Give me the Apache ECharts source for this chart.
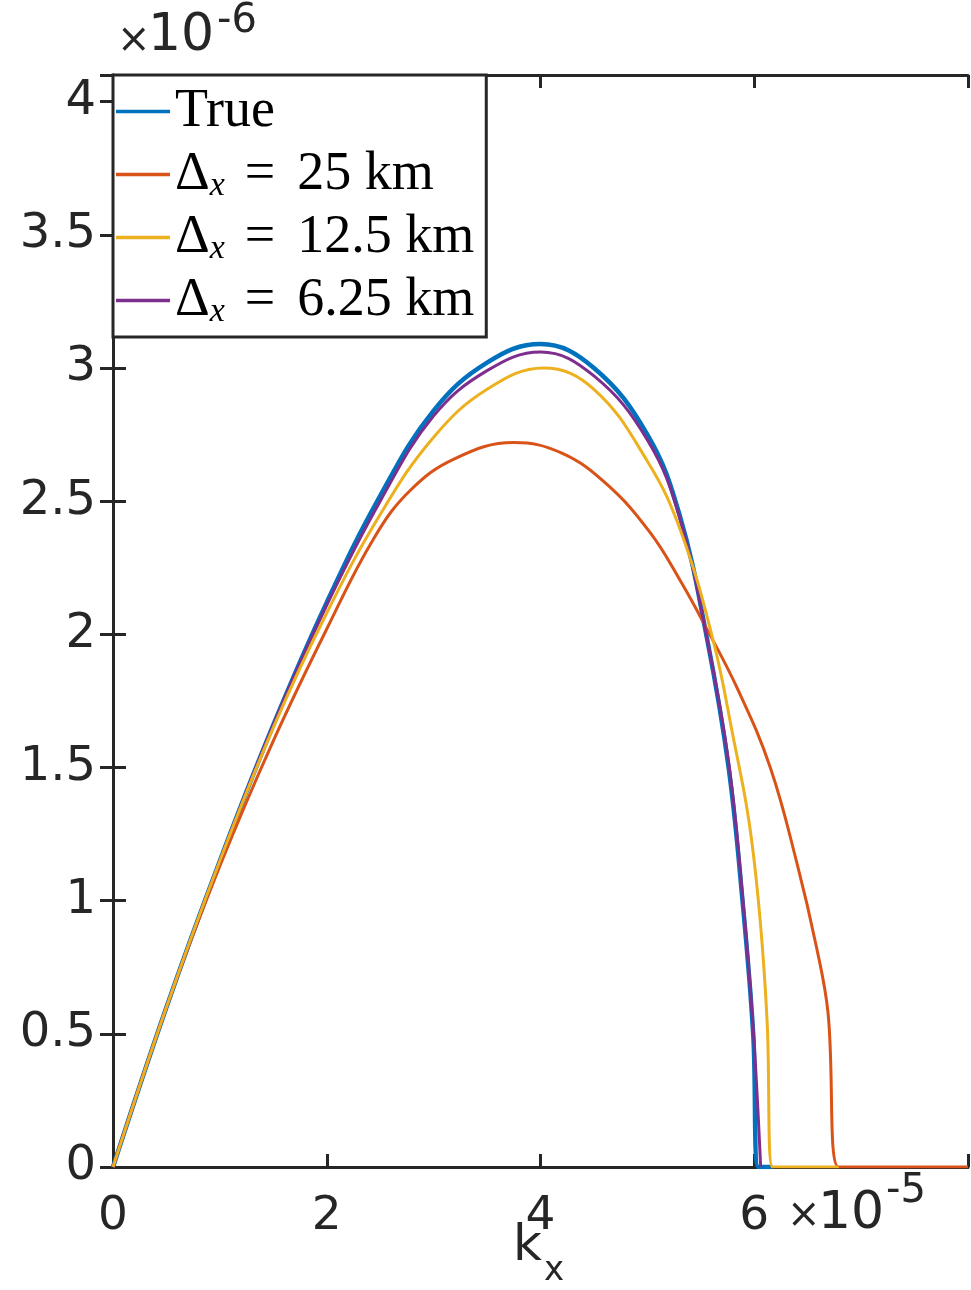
<!DOCTYPE html>
<html>
<head>
<meta charset="utf-8">
<script src="https://cdn.jsdelivr.net/npm/echarts@6/dist/echarts.min.js"></script>
<style>
  html, body { margin: 0; padding: 0; background: #fff; }
  #chart { width: 971px; height: 1290px; }
</style>
</head>
<body>
<div id="chart"></div>
<script>
// k_x in units of 1e-5, growth rate in units of 1e-6
const kxTrue = [0, 0.5, 1.0, 1.5, 2.0, 2.5, 3.0, 3.5, 4.0, 4.5, 5.0, 5.3, 5.56, 5.76, 5.89, 5.99, 6.04, 6.17]
const valTrue = [0, 0.6, 1.15, 1.66, 2.12, 2.52, 2.84, 3.02, 3.09, 3.0, 2.75, 2.45, 1.98, 1.5, 1.0, 0.5, 0, 0]

const kx25 = [0, 0.5, 1.0, 1.5, 2.0, 2.44, 2.78, 3.2, 3.75, 4.2, 4.63, 5.03, 5.31, 5.53, 5.85, 6.15, 6.4, 6.58, 6.69, 6.79, 8]
const val25 = [0, 0.6, 1.13, 1.6, 2.02, 2.36, 2.54, 2.66, 2.72, 2.68, 2.56, 2.38, 2.2, 2.04, 1.79, 1.5, 1.14, 0.83, 0.58, 0, 0]

const kx125 = [0, 0.5, 1.0, 1.5, 2.0, 2.5, 3.0, 3.5, 4.03, 4.5, 5.0, 5.31, 5.62, 5.8, 5.95, 6.05, 6.12, 6.17, 6.79]
const val125 = [0, 0.6, 1.15, 1.65, 2.08, 2.45, 2.74, 2.92, 3.0, 2.92, 2.65, 2.39, 1.97, 1.62, 1.3, 0.95, 0.55, 0, 0]

const kx625 = [0, 0.5, 1.0, 1.5, 2.0, 2.5, 3.0, 3.5, 4.0, 4.5, 5.0, 5.3, 5.56, 5.76, 5.89, 5.99, 6.06]
const val625 = [0, 0.6, 1.15, 1.66, 2.11, 2.5, 2.82, 2.99, 3.06, 2.97, 2.73, 2.44, 1.98, 1.52, 1.02, 0.52, 0]

const seriesNames = ['True', '25 km', '12.5 km', '6.25 km']
const colors = ['#0072BD', '#D95319', '#EDB120', '#7E2F8E']

const axisColor = '#262626'
const tickFont = 'DejaVu Sans'

function pairs(xs, ys) {
  return xs.map((x, i) => [x, ys[i]])
}

const chart = echarts.init(document.getElementById('chart'))

function lineSeries(name, data, color, width) {
  return {
    name: name,
    type: 'line',
    data: data,
    symbol: 'none',
    smooth: 0.4,
    lineStyle: { color: color, width: width },
    itemStyle: { color: color },
    animation: false
  }
}

const tickStyle = { inside: true, length: 13, lineStyle: { color: axisColor, width: 3 } }
const lineStyleAxis = { show: true, lineStyle: { color: axisColor, width: 3 } }

const legendRich = {
  t: { fontFamily: 'Liberation Serif', fontSize: 54, lineHeight: 57, color: '#000' },
  d: { fontFamily: 'Liberation Serif', fontSize: 54, lineHeight: 57, color: '#000' },
  s: { fontFamily: 'Liberation Serif', fontStyle: 'italic', fontSize: 34, lineHeight: 22, verticalAlign: 'bottom', color: '#000' },
  e: { fontFamily: 'Liberation Serif', fontSize: 54, lineHeight: 57, padding: [0, 22, 0, 20], color: '#000' }
}

chart.setOption({
  backgroundColor: '#fff',
  grid: { left: 113, right: 3, top: 75, bottom: 123, containLabel: false },
  xAxis: [
    {
      type: 'value',
      min: 0,
      max: 8,
      interval: 2,
      axisLine: Object.assign({ onZero: false }, lineStyleAxis),
      axisTick: tickStyle,
      splitLine: { show: false },
      axisLabel: {
        color: axisColor,
        fontFamily: tickFont,
        fontSize: 47,
        margin: 26,
        formatter: v => (v === 8 ? '' : String(v))
      }
    },
    {
      type: 'value',
      position: 'top',
      min: 0,
      max: 8,
      interval: 2,
      axisLine: Object.assign({ onZero: false }, lineStyleAxis),
      axisTick: tickStyle,
      splitLine: { show: false },
      axisLabel: { show: false }
    }
  ],
  yAxis: [
    {
      type: 'value',
      min: 0,
      max: 4.1,
      interval: 0.5,
      axisLine: lineStyleAxis,
      axisTick: tickStyle,
      splitLine: { show: false },
      axisLabel: {
        color: axisColor,
        fontFamily: tickFont,
        fontSize: 48,
        margin: 17,
        formatter: v => (Math.abs(v * 2 - Math.round(v * 2)) > 1e-6 ? '' : String(v))
      }
    },
    {
      type: 'value',
      position: 'right',
      min: 0,
      max: 4.1,
      interval: 0.5,
      axisLine: lineStyleAxis,
      axisTick: tickStyle,
      splitLine: { show: false },
      axisLabel: { show: false }
    }
  ],
  legend: {
    orient: 'vertical',
    left: 113,
    top: 75,
    data: seriesNames,
    icon: 'rect',
    backgroundColor: '#fff',
    borderColor: axisColor,
    borderWidth: 3,
    borderRadius: 0,
    padding: [8, 12, 8, 3],
    itemGap: 6,
    itemWidth: 54,
    itemHeight: 3.5,
    formatter: name => (name === 'True'
      ? '{t|True}'
      : '{d|Δ}{s|x}{e|=}{t|' + name + '}'),
    textStyle: {
      color: '#000',
      fontFamily: 'Liberation Serif',
      fontSize: 54,
      lineHeight: 57,
      rich: legendRich
    }
  },
  graphic: [
    { type: 'text', left: 117, top: 22, style: { text: '×', font: '40px "DejaVu Sans"', fill: axisColor } },
    { type: 'text', left: 148, top: 10, style: { text: '10', font: '52px "DejaVu Sans"', fill: axisColor } },
    { type: 'text', left: 217, top: 2, style: { text: '-6', font: '40px "DejaVu Sans"', fill: axisColor } },
    { type: 'text', left: 787, top: 1197, style: { text: '×', font: '40px "DejaVu Sans"', fill: axisColor } },
    { type: 'text', left: 818, top: 1188, style: { text: '10', font: '52px "DejaVu Sans"', fill: axisColor } },
    { type: 'text', left: 886, top: 1172, style: { text: '-5', font: '40px "DejaVu Sans"', fill: axisColor } },
    { type: 'text', left: 513, top: 1222, style: { text: 'k', font: '50px "DejaVu Sans"', fill: axisColor } },
    { type: 'text', left: 544, top: 1254, style: { text: 'x', font: '34px "DejaVu Sans"', fill: axisColor } }
  ],
  series: [
    lineSeries(seriesNames[0], pairs(kxTrue, valTrue), colors[0], 4.5),
    lineSeries(seriesNames[1], pairs(kx25, val25), colors[1], 3),
    lineSeries(seriesNames[3], pairs(kx625, val625), colors[3], 3),
    lineSeries(seriesNames[2], pairs(kx125, val125), colors[2], 3)
  ]
})
</script>
</body>
</html>
